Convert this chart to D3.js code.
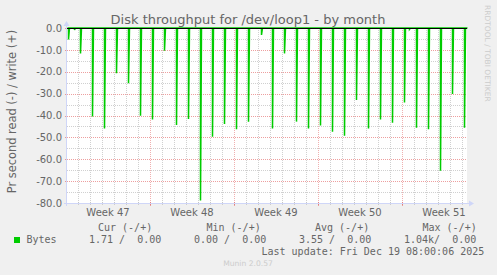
<!DOCTYPE html>
<html>
<head>
<meta charset="utf-8">
<script src="https://cdn.jsdelivr.net/npm/d3@7"></script>
<style>
  body { margin: 0; background: #f0f0f0; }
  svg { display: block; }
</style>
</head>
<body>
<div id="chart"></div>
<script>
// read spikes: hour offset from graph start (2h per sample), depth in bytes/s
const spikeHours  = [2, 14, 26, 50, 74, 98, 122, 146, 170, 194, 218, 242, 266, 290, 314, 338, 362, 388,
                     410, 434, 458, 482, 506, 530, 554, 578, 602, 626, 650, 674, 684, 698, 722, 746, 770, 794];
const spikeDepths = [5.2, 0.9, 11.6, 40.5, 45.9, 20.7, 25.3, 40.1, 41.8, 10.4, 44.3, 41.6, 78.9, 49.7, 43.9, 46.3, 42.8, 3.2,
                     45.9, 11.6, 42.8, 45.9, 44.6, 47.4, 49.2, 32.9, 45.9, 41.8, 43.3, 34.1, 0.6, 45.6, 46.3, 65.2, 30.2, 45.6];

const yTicks = [0, -10, -20, -30, -40, -50, -60, -70, -80];
const weekLabels = ["Week 47", "Week 48", "Week 49", "Week 50", "Week 51"];
const weekStartHours = [-2, 166, 334, 502, 670];

const legendHeaders = ["Cur (-/+)", "Min (-/+)", "Avg (-/+)", "Max (-/+)"];
const legendValues  = ["1.71 /  0.00", "0.00 /  0.00", "3.55 /  0.00", "1.04k/  0.00"];
const seriesName = "Bytes";
const lastUpdate = "Last update: Fri Dec 19 08:00:06 2025";

const ctx = {
    w: 497,
    h: 275,
    left: 67,
    right: 467,
    top: 28,
    bottom: 203,
    font: "#666666",
    axis: "#CFD6F8",
    green: "#00CC00"
};

const svg = d3.select("#chart").append("svg")
    .attr("width", ctx.w).attr("height", ctx.h);

svg.append("rect").attr("width", ctx.w).attr("height", ctx.h).attr("fill", "#f0f0f0");

const x = d3.scaleLinear().domain([0, 800]).range([ctx.left, ctx.right]);
const y = d3.scaleLinear().domain([-80, 0]).range([ctx.bottom, ctx.top]);
const crisp = v => Math.round(v) + 0.5;

// canvas
svg.append("rect")
    .attr("x", ctx.left).attr("y", ctx.top)
    .attr("width", ctx.right - ctx.left).attr("height", ctx.bottom - ctx.top)
    .attr("fill", "#ffffff");

const grid = svg.append("g").attr("shape-rendering", "crispEdges");

// minor grid
d3.range(22, 800, 24).forEach(h => {
    if (weekStartHours.includes(h)) return;
    grid.append("line")
        .attr("x1", crisp(x(h))).attr("x2", crisp(x(h)))
        .attr("y1", ctx.top).attr("y2", ctx.bottom)
        .attr("stroke", "#C0C0C0").attr("stroke-opacity", 0.75)
        .attr("stroke-dasharray", "1,1");
});
d3.range(-75, 0, 10).forEach(v => {
    grid.append("line")
        .attr("x1", ctx.left).attr("x2", ctx.right)
        .attr("y1", crisp(y(v))).attr("y2", crisp(y(v)))
        .attr("stroke", "#C0C0C0").attr("stroke-opacity", 0.75)
        .attr("stroke-dasharray", "1,1");
});

// major grid
weekStartHours.filter(h => h > 0).forEach(h => {
    grid.append("line")
        .attr("x1", crisp(x(h))).attr("x2", crisp(x(h)))
        .attr("y1", ctx.top).attr("y2", ctx.bottom + 3)
        .attr("stroke", "#DE5050").attr("stroke-opacity", 0.45)
        .attr("stroke-dasharray", "1,1");
});
yTicks.forEach(v => {
    grid.append("line")
        .attr("x1", ctx.left - 2).attr("x2", ctx.right)
        .attr("y1", crisp(y(v))).attr("y2", crisp(y(v)))
        .attr("stroke", "#DE5050").attr("stroke-opacity", 0.55)
        .attr("stroke-dasharray", "1,1");
});

// axis tick marks under the bottom axis
d3.range(22, 800, 24).forEach(h => {
    const major = weekStartHours.includes(h);
    grid.append("line")
        .attr("x1", crisp(x(h))).attr("x2", crisp(x(h)))
        .attr("y1", ctx.bottom - 1).attr("y2", ctx.bottom + (major ? 3 : 2))
        .attr("stroke", major ? "#DE5050" : "#C0C0C0")
        .attr("stroke-opacity", major ? 0.5 : 0.75);
});

// build the series from the spikes
const points = [[0, 0]];
spikeHours.forEach((h, i) => {
    points.push([h, 0], [h, -spikeDepths[i]], [h + 2, 0]);
});
points.push([800, 0]);

const line = d3.line()
    .x(d => x(d[0]) + 0.5)
    .y(d => y(d[1]));

svg.append("path")
    .datum(points)
    .attr("d", line)
    .attr("fill", "none")
    .attr("stroke", ctx.green)
    .attr("stroke-width", 1.5)
    .attr("stroke-linejoin", "miter");

// zero rule
svg.append("line")
    .attr("x1", ctx.left).attr("x2", ctx.right)
    .attr("y1", crisp(y(0))).attr("y2", crisp(y(0)))
    .attr("stroke", "#000000").attr("shape-rendering", "crispEdges");

// axes + arrows
svg.append("line")
    .attr("x1", ctx.left - 0.5).attr("x2", ctx.left - 0.5)
    .attr("y1", ctx.bottom + 3).attr("y2", ctx.top - 3)
    .attr("stroke", ctx.axis);
svg.append("line")
    .attr("x1", ctx.left - 3).attr("x2", ctx.right + 3)
    .attr("y1", ctx.bottom + 0.5).attr("y2", ctx.bottom + 0.5)
    .attr("stroke", ctx.axis);
svg.append("path")
    .attr("d", `M${ctx.left - 3.5},${ctx.top - 2}L${ctx.left - 0.5},${ctx.top - 7}L${ctx.left + 2.5},${ctx.top - 2}Z`)
    .attr("fill", ctx.axis);
svg.append("path")
    .attr("d", `M${ctx.right + 2},${ctx.bottom - 2.5}L${ctx.right + 7},${ctx.bottom + 0.5}L${ctx.right + 2},${ctx.bottom + 3.5}Z`)
    .attr("fill", ctx.axis);

// y tick labels
svg.selectAll("text.ytick")
    .data(yTicks)
    .enter()
    .append("text")
    .attr("class", "ytick")
    .attr("x", 62)
    .attr("y", d => y(d) + 3.7)
    .attr("text-anchor", "end")
    .style("font-family", "DejaVu Sans")
    .style("font-size", "10px")
    .style("fill", ctx.font)
    .text(d => d.toFixed(1));

// week labels
svg.selectAll("text.week")
    .data(weekLabels)
    .enter()
    .append("text")
    .attr("class", "week")
    .attr("x", (d, i) => x(weekStartHours[i] + 84))
    .attr("y", 216)
    .attr("text-anchor", "middle")
    .style("font-family", "DejaVu Sans")
    .style("font-size", "10px")
    .style("fill", ctx.font)
    .text(d => d);

// title
svg.append("text")
    .attr("x", 248).attr("y", 23.5)
    .attr("text-anchor", "middle")
    .style("font-family", "DejaVu Sans")
    .style("font-size", "13px")
    .style("fill", ctx.font)
    .text("Disk throughput for /dev/loop1 - by month");

// vertical unit label
svg.append("text")
    .attr("transform", "translate(15.5,111.5) rotate(-90)")
    .attr("text-anchor", "middle")
    .style("font-family", "DejaVu Sans")
    .style("font-size", "11.4px")
    .style("fill", ctx.font)
    .text("Pr second read (-) / write (+)");

// watermark on the right
svg.append("text")
    .attr("transform", "translate(485,5) rotate(90)")
    .style("font-family", "DejaVu Sans")
    .style("font-size", "7.5px")
    .style("fill", "#cccccc")
    .text("RRDTOOL / TOBI OETIKER");

// legend
const mono = sel => sel.style("font-family", "DejaVu Sans Mono")
    .style("font-size", "10px").style("fill", ctx.font).style("white-space", "pre");
const headerX = [98, 206.5, 315, 422.5];
const valueX = [89, 194, 299, 404];

svg.selectAll("text.lhead")
    .data(legendHeaders)
    .enter()
    .append("text")
    .attr("class", "lhead")
    .attr("x", (d, i) => headerX[i]).attr("y", 231.3)
    .call(mono)
    .text(d => d);

svg.append("rect")
    .attr("x", 14).attr("y", 237).attr("width", 6).attr("height", 6)
    .attr("fill", ctx.green);
svg.append("text")
    .attr("x", 26.5).attr("y", 243.3)
    .call(mono)
    .text(seriesName);

svg.selectAll("text.lval")
    .data(legendValues)
    .enter()
    .append("text")
    .attr("class", "lval")
    .attr("x", (d, i) => valueX[i]).attr("y", 243.3)
    .call(mono)
    .text(d => d);

svg.append("text")
    .attr("x", 261.5).attr("y", 255.3)
    .call(mono)
    .text(lastUpdate);

svg.append("text")
    .attr("x", 248).attr("y", 266)
    .attr("text-anchor", "middle")
    .style("font-family", "DejaVu Sans")
    .style("font-size", "7.6px")
    .style("fill", "#cccccc")
    .text("Munin 2.0.57");
</script>
</body>
</html>
